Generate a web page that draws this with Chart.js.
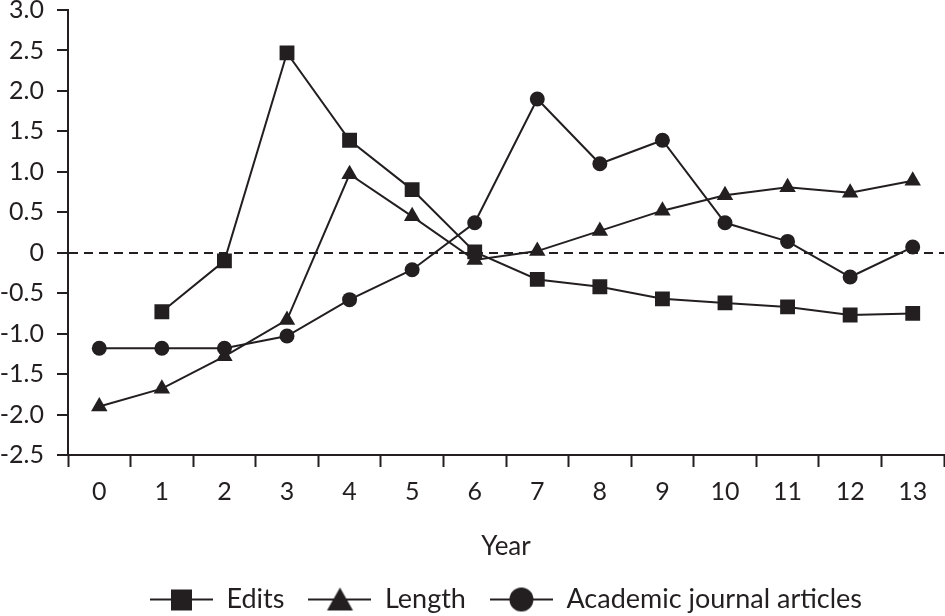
<!DOCTYPE html>
<html>
<head>
<meta charset="utf-8">
<script src="https://cdn.jsdelivr.net/npm/chart.js@4.4.1/dist/chart.umd.min.js"></script>
<style>
  html, body { margin: 0; padding: 0; background: #fff; }
  #wrap { width: 945px; height: 616px; }
</style>
</head>
<body>
<div id="wrap"><canvas id="chart"></canvas></div>
<script>
const years = ['0', '1', '2', '3', '4', '5', '6', '7', '8', '9', '10', '11', '12', '13']
const edits = [null, -0.73, -0.10, 2.47, 1.39, 0.78, 0.01, -0.33, -0.42, -0.57, -0.62, -0.67, -0.77, -0.75]
const lengths = [-1.90, -1.68, -1.28, -0.83, 0.97, 0.45, -0.09, 0.02, 0.27, 0.52, 0.71, 0.81, 0.74, 0.89]
const articles = [-1.18, -1.18, -1.18, -1.03, -0.58, -0.21, 0.37, 1.90, 1.10, 1.39, 0.37, 0.14, -0.30, 0.07]
const seriesNames = ['Edits', 'Length', 'Academic journal articles']

const ink = '#231f20'
const fontFamily = 'Lato, "Open Sans", sans-serif'

// little line + marker picture for each legend entry
function legendIcon(shape){
    const c = document.createElement('canvas')
    c.width = 63
    c.height = 28
    const g = c.getContext('2d')
    g.strokeStyle = ink
    g.fillStyle = ink
    g.lineWidth = 2
    g.beginPath()
    g.moveTo(0, 14)
    g.lineTo(63, 14)
    g.stroke()
    g.beginPath()
    if (shape === 'rect'){
        g.rect(21, 4, 21, 21)
    } else if (shape === 'triangle'){
        g.moveTo(31.5, 2)
        g.lineTo(44.5, 25)
        g.lineTo(18.5, 25)
        g.closePath()
    } else {
        g.arc(31.5, 14, 12, 0, Math.PI * 2)
    }
    g.fill()
    return c
}

function lineSet(label, data, shape, radius){
    return {
        label: label,
        data: data,
        borderColor: ink,
        backgroundColor: ink,
        borderWidth: 2,
        pointStyle: shape,
        pointRadius: radius,
        pointHoverRadius: radius,
        pointBorderWidth: 0,
        pointBackgroundColor: ink,
        tension: 0,
        spanGaps: false
    }
}

const ctx = document.getElementById('chart').getContext('2d')
const icons = ['rect', 'triangle', 'circle'].map(legendIcon)

new Chart(ctx, {
    type: 'line',
    data: {
        labels: years,
        datasets: [
            lineSet(seriesNames[0], edits, 'rect', 10.5),
            lineSet(seriesNames[1], lengths, 'triangle', 9.5),
            lineSet(seriesNames[2], articles, 'circle', 7.5)
        ]
    },
    options: {
        responsive: true,
        maintainAspectRatio: false,
        animation: false,
        layout: {
            autoPadding: false,
            padding: { left: 0, right: 1, top: 0, bottom: -7 }
        },
        scales: {
            x: {
                type: 'category',
                offset: true,
                afterFit: s => { s.height = 107; s.paddingLeft = 0; s.paddingRight = 0 },
                grid: {
                    offset: true,
                    drawOnChartArea: false,
                    tickLength: 12,
                    tickColor: ink,
                    tickWidth: 2
                },
                border: { color: ink, width: 2 },
                ticks: {
                    color: ink,
                    padding: 10,
                    maxRotation: 0,
                    font: { family: fontFamily, size: 25 }
                },
                title: {
                    display: true,
                    text: 'Year',
                    color: ink,
                    padding: { top: 24, bottom: 0 },
                    font: { family: fontFamily, size: 26 }
                }
            },
            y: {
                min: -2.5,
                max: 3,
                afterFit: s => { s.width = 68; s.paddingTop = 10; s.paddingBottom = 0 },
                grid: {
                    color: c => c.tick && c.tick.value === 0 ? ink : 'rgba(0,0,0,0)',
                    lineWidth: 2,
                    tickLength: 11,
                    tickColor: ink,
                    tickWidth: 2,
                    tickBorderDash: []
                },
                border: { color: ink, width: 2, dash: [9, 6] },
                ticks: {
                    stepSize: 0.5,
                    color: ink,
                    padding: 13,
                    font: { family: fontFamily, size: 25 },
                    callback: v => v === 0 ? '0' : v.toFixed(1)
                }
            }
        },
        plugins: {
            tooltip: { enabled: false },
            legend: {
                position: 'bottom',
                fullSize: false,
                labels: {
                    color: ink,
                    usePointStyle: true,
                    pointStyleWidth: 63,
                    padding: 24,
                    font: { family: fontFamily, size: 27 },
                    generateLabels: chart => chart.data.datasets.map((ds, i) => ({
                        text: ds.label,
                        pointStyle: icons[i],
                        fillStyle: ink,
                        strokeStyle: ink,
                        lineWidth: 0,
                        fontColor: ink,
                        datasetIndex: i,
                        hidden: false
                    }))
                }
            }
        }
    }
})
</script>
</body>
</html>
